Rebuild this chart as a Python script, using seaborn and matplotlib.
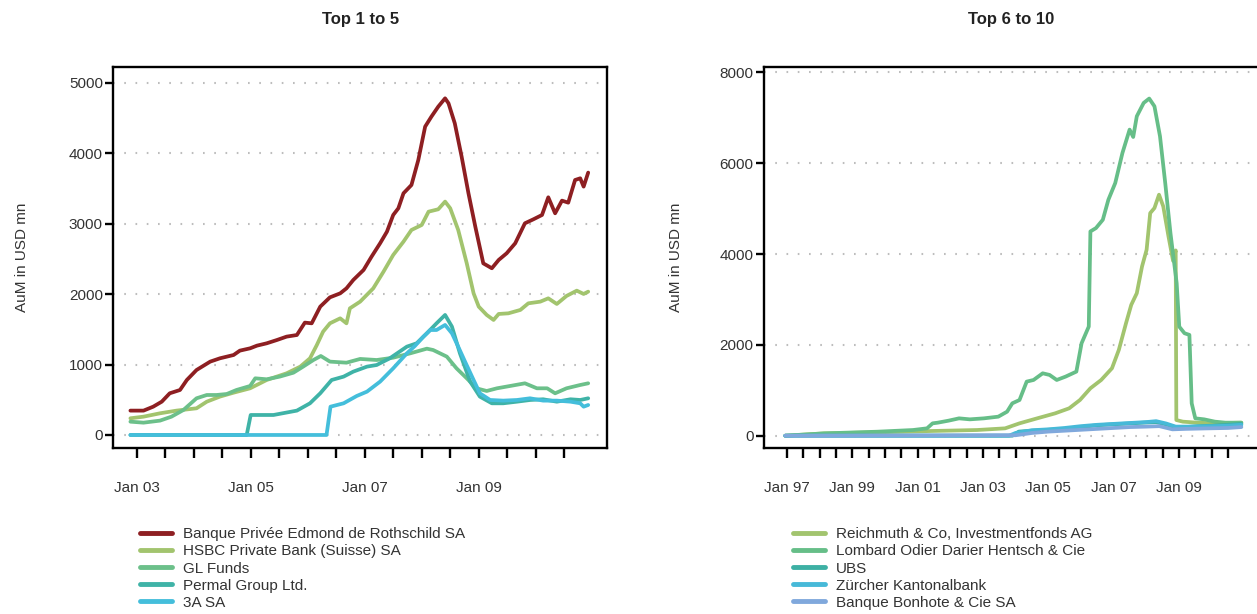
import numpy as np
import pandas as pd
import matplotlib
matplotlib.use("Agg")
import matplotlib.pyplot as plt
import seaborn as sns

# ---------------- data: Top 1 to 5 (decimal years, AuM in USD mn) ----------------
left_names = ["Banque Privée Edmond de Rothschild SA", "HSBC Private Bank (Suisse) SA",
              "GL Funds", "Permal Group Ltd.", "3A SA"]
left_colors = ["#8E1F22", "#A2C46E", "#6CC08A", "#3FB3A7", "#44BEDB"]

roth_t = [2002.89, 2003.12, 2003.29, 2003.44, 2003.58, 2003.76, 2003.88, 2004.05, 2004.29, 2004.46,
          2004.70, 2004.81, 2004.99, 2005.11, 2005.28, 2005.46, 2005.63, 2005.81, 2005.95, 2006.07,
          2006.22, 2006.39, 2006.57, 2006.68, 2006.80, 2006.98, 2007.12, 2007.27, 2007.39, 2007.50,
          2007.59, 2007.68, 2007.82, 2007.94, 2008.06, 2008.17, 2008.29, 2008.41, 2008.47, 2008.58,
          2008.70, 2008.82, 2008.94, 2009.08, 2009.23, 2009.35, 2009.49, 2009.64, 2009.81, 2009.96,
          2010.11, 2010.22, 2010.34, 2010.46, 2010.57, 2010.69, 2010.78, 2010.84, 2010.92]
roth_v = [346, 346, 402, 473, 592, 639, 781, 923, 1042, 1089,
          1136, 1198, 1231, 1269, 1302, 1349, 1397, 1420, 1596, 1586,
          1823, 1955, 2012, 2083, 2202, 2344, 2533, 2723, 2888, 3125,
          3220, 3433, 3551, 3906, 4380, 4522, 4664, 4782, 4711, 4427,
          3954, 3433, 2959, 2438, 2368, 2486, 2581, 2723, 3007, 3064,
          3125, 3376, 3149, 3329, 3300, 3622, 3646, 3528, 3727]

hsbc_t = [2002.89, 2003.12, 2003.41, 2003.70, 2004.05, 2004.23, 2004.46, 2004.70, 2004.99, 2005.28,
          2005.63, 2005.87, 2006.04, 2006.16, 2006.27, 2006.39, 2006.57, 2006.68, 2006.74, 2006.92,
          2007.15, 2007.33, 2007.50, 2007.68, 2007.82, 2008.00, 2008.12, 2008.29, 2008.41, 2008.50,
          2008.64, 2008.79, 2008.91, 2009.00, 2009.14, 2009.26, 2009.35, 2009.52, 2009.73, 2009.87,
          2010.08, 2010.22, 2010.37, 2010.54, 2010.72, 2010.84, 2010.92]
hsbc_v = [237, 260, 308, 346, 379, 473, 545, 601, 663, 781,
          876, 971, 1089, 1278, 1468, 1586, 1657, 1586, 1799, 1894,
          2083, 2320, 2557, 2746, 2912, 2983, 3172, 3206, 3315, 3220,
          2912, 2438, 2012, 1823, 1705, 1634, 1719, 1728, 1776, 1870,
          1894, 1941, 1861, 1975, 2050, 2003, 2036]

gl_t = [2002.89, 2003.12, 2003.41, 2003.61, 2003.82, 2004.05, 2004.23, 2004.40, 2004.58, 2004.75,
        2004.99, 2005.08, 2005.28, 2005.51, 2005.75, 2005.92, 2006.10, 2006.23, 2006.39, 2006.68,
        2006.92, 2007.21, 2007.50, 2007.80, 2008.09, 2008.20, 2008.44, 2008.61, 2008.79, 2008.96,
        2009.14, 2009.32, 2009.55, 2009.81, 2010.02, 2010.20, 2010.34, 2010.54, 2010.78, 2010.92]
gl_v = [189, 175, 204, 260, 355, 521, 568, 568, 582, 639,
        696, 805, 791, 829, 885, 971, 1065, 1122, 1042, 1027,
        1080, 1065, 1098, 1160, 1226, 1207, 1113, 947, 805, 663,
        625, 663, 696, 734, 663, 663, 592, 663, 710, 734]

permal_t = [2002.89, 2004.93, 2005.00, 2005.40, 2005.81, 2006.04, 2006.22, 2006.42, 2006.63, 2006.80,
            2007.04, 2007.21, 2007.44, 2007.74, 2007.91, 2008.09, 2008.26, 2008.41, 2008.53, 2008.67,
            2008.85, 2009.02, 2009.23, 2009.43, 2009.67, 2009.90, 2010.13, 2010.37, 2010.61, 2010.78,
            2010.92]
permal_v = [0, 0, 284, 284, 346, 450, 592, 781, 829, 900,
            971, 994, 1089, 1255, 1302, 1444, 1586, 1705, 1539, 1160,
            758, 545, 450, 450, 473, 497, 507, 473, 507, 497,
            521]

a3_t = [2002.89, 2006.33, 2006.40, 2006.63, 2006.86, 2007.04, 2007.27, 2007.50, 2007.74, 2007.88,
        2008.03, 2008.15, 2008.26, 2008.41, 2008.53, 2008.64, 2008.76, 2008.91, 2009.02, 2009.20,
        2009.43, 2009.67, 2009.90, 2010.13, 2010.37, 2010.61, 2010.78, 2010.84, 2010.92]
a3_v = [0, 0, 402, 450, 554, 616, 758, 947, 1160, 1264,
        1397, 1491, 1491, 1563, 1444, 1255, 1042, 781, 592, 497,
        488, 497, 521, 488, 488, 473, 450, 402, 426]

# ---------------- data: Top 6 to 10 ----------------
right_names = ["Reichmuth & Co, Investmentfonds AG", "Lombard Odier Darier Hentsch & Cie",
               "UBS", "Zürcher Kantonalbank", "Banque Bonhote & Cie SA"]
right_colors = ["#A2C46E", "#66BE88", "#3DB0A4", "#47B9D8", "#80A8DC"]

reich_t = [1996.95, 1998.14, 1999.77, 2001.40, 2002.82, 2003.68, 2004.12, 2004.66, 2005.21, 2005.64,
           2005.97, 2006.29, 2006.62, 2006.95, 2007.16, 2007.38, 2007.54, 2007.71, 2007.87, 2008.01,
           2008.12, 2008.25, 2008.39, 2008.52, 2008.68, 2008.82, 2008.90, 2008.92, 2009.12, 2009.55,
           2010.10, 2010.91]
reich_v = [0, 51, 74, 103, 125, 162, 272, 382, 492, 603,
           786, 1044, 1227, 1485, 1889, 2477, 2881, 3138, 3726, 4094,
           4902, 5013, 5307, 5049, 4388, 3850, 4080, 345, 309, 287,
           272, 287]

lomb_t = [1996.95, 1998.14, 1999.77, 2000.86, 2001.29, 2001.46, 2001.62, 2001.95, 2002.27, 2002.60,
          2003.03, 2003.47, 2003.74, 2003.90, 2004.12, 2004.34, 2004.55, 2004.83, 2005.04, 2005.26,
          2005.53, 2005.86, 2006.02, 2006.24, 2006.29, 2006.46, 2006.67, 2006.84, 2007.05, 2007.27,
          2007.49, 2007.60, 2007.71, 2007.92, 2008.09, 2008.25, 2008.42, 2008.58, 2008.74, 2008.93,
          2009.01, 2009.17, 2009.32, 2009.39, 2009.50, 2009.77, 2010.10, 2010.42, 2010.91]
lomb_v = [0, 51, 88, 125, 162, 272, 287, 331, 382, 360,
          382, 419, 529, 713, 786, 1191, 1227, 1374, 1338, 1227,
          1301, 1411, 2036, 2403, 4498, 4572, 4755, 5196, 5564, 6225,
          6740, 6578, 7034, 7328, 7424, 7254, 6593, 5564, 4461, 3359,
          2400, 2256, 2220, 713, 382, 360, 309, 287, 287]

ubs_t = [1996.95, 2003.90, 2004.10, 2004.50, 2005.00, 2005.50, 2006.00, 2006.50, 2007.00, 2007.50,
         2008.00, 2008.30, 2008.60, 2008.90, 2009.20, 2009.60, 2010.00, 2010.50, 2010.91]
ubs_v = [0, 0, 90, 110, 130, 150, 190, 230, 250, 270,
         290, 300, 250, 180, 190, 210, 220, 240, 260]

zkb_t = [1996.95, 2003.80, 2004.00, 2004.50, 2005.00, 2005.50, 2006.00, 2006.50, 2007.00, 2007.50,
         2008.00, 2008.30, 2008.60, 2008.90, 2009.30, 2010.00, 2010.50, 2010.91]
zkb_v = [0, 0, 60, 120, 140, 170, 210, 240, 260, 280,
         300, 320, 270, 200, 200, 210, 220, 240]

bonh_t = [1996.95, 2004.00, 2004.50, 2005.00, 2005.50, 2006.00, 2006.50, 2007.00, 2007.50, 2008.00,
          2008.40, 2008.80, 2009.20, 2009.80, 2010.50, 2010.91]
bonh_v = [0, 10, 60, 90, 110, 130, 150, 170, 190, 200,
          210, 140, 150, 160, 170, 190]

left_ticks_years = [2003 + 0.5 * i for i in range(16)]
left_tick_labels = ["Jan 03", "", "", "", "Jan 05", "", "", "", "Jan 07", "", "", "", "Jan 09", "", "", ""]
right_ticks_years = [1997 + 0.5 * i for i in range(28)]
right_tick_labels = []
for i in range(28):
    y = 1997 + i // 2
    right_tick_labels.append(f"Jan {y % 100:02d}" if (i % 4 == 0) else "")

left_yticks = [0, 1000, 2000, 3000, 4000, 5000]
right_yticks = [0, 2000, 4000, 6000, 8000]

# ---------------- figure ----------------
sns.set_theme(style="white")
plt.rcParams["font.family"] = ["Liberation Sans", "DejaVu Sans"]

W, H = 1257, 614
fig = plt.figure(figsize=(W / 100, H / 100), dpi=100)


def axes_px(l, t, r, b):
    return fig.add_axes([l / W, 1 - b / H, (r - l) / W, (b - t) / H])


ax1 = axes_px(113.3, 67, 607, 448)
ax2 = axes_px(764, 67, 1259, 448)

left_series = [(roth_t, roth_v), (hsbc_t, hsbc_v), (gl_t, gl_v), (permal_t, permal_v), (a3_t, a3_v)]
right_series = [(reich_t, reich_v), (lomb_t, lomb_v), (ubs_t, ubs_v), (zkb_t, zkb_v), (bonh_t, bonh_v)]

for (t, v), name, c in zip(left_series, left_names, left_colors):
    sns.lineplot(x=t, y=v, ax=ax1, color=c, linewidth=2.7, label=name,
                 estimator=None, sort=False, zorder=3)
for (t, v), name, c in zip(right_series, right_names, right_colors):
    sns.lineplot(x=t, y=v, ax=ax2, color=c, linewidth=2.7, label=name,
                 estimator=None, sort=False, zorder=3)


def style(ax, xlim, ylim, yticks, xticks, xlabels, title, ylab_x, leg_x):
    ax.set_xlim(xlim)
    ax.set_ylim(ylim)
    ax.set_yticks(yticks)
    ax.set_yticklabels([str(v) for v in yticks])
    ax.set_xticks(xticks)
    ax.set_xticklabels(xlabels)
    ax.set_xlabel("")
    ax.set_ylabel("")
    for s in ax.spines.values():
        s.set_visible(True)
        s.set_color("black")
        s.set_linewidth(1.7)
    ax.tick_params(axis="x", bottom=True, direction="out", length=7.5, width=1.7,
                   color="black", pad=16.5, labelsize=11, labelcolor="#333333")
    ax.tick_params(axis="y", left=True, direction="out", length=6, width=1.7,
                   color="black", pad=1.5, labelsize=11, labelcolor="#333333")
    for v in yticks:
        ax.axhline(v, color="#BDBDBD", lw=1.5, ls=(0, (0.8, 4.6)), zorder=1)
    ax.text(0.5, 1.125, title, transform=ax.transAxes, ha="center", va="center",
            fontsize=12, fontweight="bold", color="#222222")
    ax.text(ylab_x, 0.5, "AuM in USD mn", transform=ax.transAxes, rotation=90,
            ha="center", va="center", fontsize=11, color="#333333")
    handles, labels = ax.get_legend_handles_labels()
    leg = ax.legend(handles, labels, loc="upper left", bbox_to_anchor=(leg_x, -0.2085),
                    frameon=False, fontsize=11, handlelength=2.1, handletextpad=0.7,
                    labelspacing=0.2, borderpad=0, borderaxespad=0)
    for line in leg.get_lines():
        line.set_linewidth(3.5)
    for txt in leg.get_texts():
        txt.set_color("#333333")


style(ax1, (2002.59, 2011.25), (-185, 5227), left_yticks, left_ticks_years, left_tick_labels,
      "Top 1 to 5", -0.185, 0.054)
style(ax2, (1996.3, 2011.45), (-271, 8119), right_yticks, right_ticks_years, right_tick_labels,
      "Top 6 to 10", -0.178, 0.0587)

fig.savefig("out.png", dpi=100)
